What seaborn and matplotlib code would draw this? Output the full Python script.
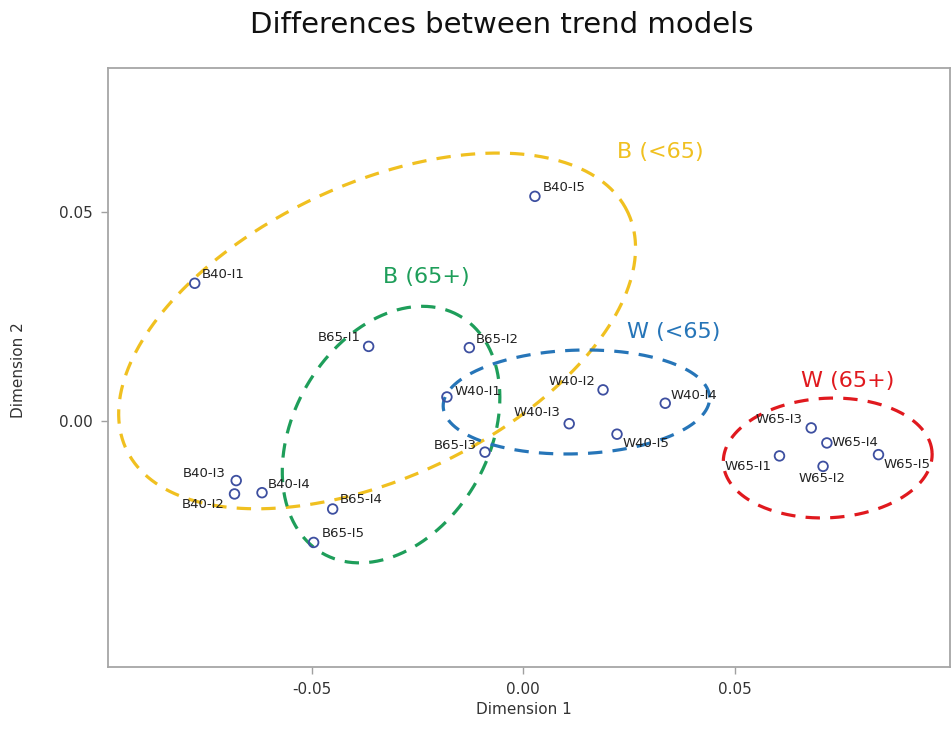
import numpy as np
import pandas as pd
import matplotlib
matplotlib.use("Agg")
import matplotlib.pyplot as plt
import seaborn as sns

# ---------------- data ----------------
labels = ["B40-I1", "B40-I2", "B40-I3", "B40-I4", "B40-I5",
          "B65-I1", "B65-I2", "B65-I3", "B65-I4", "B65-I5",
          "W40-I1", "W40-I2", "W40-I3", "W40-I4", "W40-I5",
          "W65-I1", "W65-I2", "W65-I3", "W65-I4", "W65-I5"]
dim1 = [-0.0776, -0.0682, -0.0678, -0.0617, 0.0028,
        -0.0365, -0.0127, -0.0090, -0.0450, -0.0495,
        -0.0180, 0.0189, 0.0109, 0.0336, 0.0222,
        0.0606, 0.0709, 0.0681, 0.0718, 0.0840]
dim2 = [0.0329, -0.0175, -0.0143, -0.0172, 0.0537,
        0.0178, 0.0175, -0.0075, -0.0211, -0.0291,
        0.0057, 0.0074, -0.0007, 0.0042, -0.0032,
        -0.0084, -0.0109, -0.0017, -0.0053, -0.0081]

groups = ["B (<65)", "B (65+)", "W (<65)", "W (65+)"]
ell_cx = [-0.0345, -0.0312, 0.0126, 0.0720]
ell_cy = [0.0215, -0.0033, 0.0045, -0.0089]
ell_a = [0.0657, 0.0327, 0.0315, 0.0247]     # semi-major
ell_b = [0.0350, 0.0231, 0.0124, 0.0143]     # semi-minor
ell_angle = [25.8, 60.8, 2.0, 3.0]           # degrees

x_ticks = [-0.05, 0.00, 0.05]
y_ticks = [0.00, 0.05]

# ---------------- layout / style ----------------
group_colors = ["#F0C020", "#1E9E5A", "#2675B8", "#E0191E"]
group_label_pos = [(0.0324, 0.0644), (-0.0229, 0.0344), (0.0355, 0.0213), (0.0768, 0.0096)]

# label offsets in pixels (dx, dy up) and horizontal alignment
label_offsets = {
    "B40-I1": (7, 9, "left"), "B40-I2": (-10, -11, "right"), "B40-I3": (-11, 7, "right"),
    "B40-I4": (6, 8, "left"), "B40-I5": (8, 9, "left"),
    "B65-I1": (-8, 9, "right"), "B65-I2": (6, 8, "left"), "B65-I3": (-8, 7, "right"),
    "B65-I4": (7, 9, "left"), "B65-I5": (8, 9, "left"),
    "W40-I1": (8, 5, "left"), "W40-I2": (-8, 8, "right"), "W40-I3": (-9, 11, "right"),
    "W40-I4": (5, 8, "left"), "W40-I5": (6, -9, "left"),
    "W65-I1": (-8, -11, "right"), "W65-I2": (-1, -12, "center"), "W65-I3": (-9, 8, "right"),
    "W65-I4": (5, 0, "left"), "W65-I5": (5, -10, "left"),
}

sns.set_theme(style="white")
plt.rcParams["font.family"] = ["DejaVu Sans"]
plt.rcParams["axes.unicode_minus"] = False

W, H = 953, 741
fig = plt.figure(figsize=(W / 100, H / 100), dpi=100)
ax = fig.add_axes([108 / W, 1 - 667 / H, (950 - 108) / W, (667 - 68) / H])

df = pd.DataFrame({"Dimension 1": dim1, "Dimension 2": dim2, "label": labels})

# ellipses
t = np.linspace(0, 2 * np.pi, 400)
for g, cx, cy, a, b, ang, col in zip(groups, ell_cx, ell_cy, ell_a, ell_b, ell_angle, group_colors):
    th = np.deg2rad(ang)
    ex = cx + a * np.cos(t) * np.cos(th) - b * np.sin(t) * np.sin(th)
    ey = cy + a * np.cos(t) * np.sin(th) + b * np.sin(t) * np.cos(th)
    ax.plot(ex, ey, color=col, lw=2.3, linestyle=(0, (4.5, 3.2)), zorder=2)

for g, (gx, gy), col in zip(groups, group_label_pos, group_colors):
    ax.text(gx, gy, g, color=col, fontsize=16, ha="center", va="center", zorder=4)

sns.scatterplot(data=df, x="Dimension 1", y="Dimension 2", ax=ax,
                marker="o", s=48, facecolor="none", edgecolor="#3D4FA0",
                linewidth=1.3, zorder=3)

for lab, x, y in zip(labels, dim1, dim2):
    dx, dy, ha = label_offsets[lab]
    ax.annotate(lab, (x, y), xytext=(dx, dy), textcoords="offset pixels",
                ha=ha, va="center", fontsize=9.5, color="#222222", zorder=5)

ax.set_xlim(-0.0981, 0.1009)
ax.set_ylim(-0.0589, 0.0844)
ax.set_xticks(x_ticks)
ax.set_yticks(y_ticks)
ax.set_xticklabels([f"{v:.2f}" for v in x_ticks])
ax.set_yticklabels([f"{v:.2f}" for v in y_ticks])
ax.tick_params(axis="both", which="both", direction="out", length=5, width=1,
               color="#A0A0A0", labelsize=11, labelcolor="#333333", pad=6,
               bottom=True, left=True)
for sp in ax.spines.values():
    sp.set_color("#A6A6A6")
    sp.set_linewidth(1.3)

ax.set_xlabel("Dimension 1", fontsize=11, color="#333333")
ax.set_ylabel("Dimension 2", fontsize=11, color="#333333")
ax.xaxis.set_label_coords(0.5 - (529 - 524) / 842, -(702 - 667) / 599)
ax.yaxis.set_label_coords(-(108 - 26) / 842, 0.5 - (370 - 367.5) / 599)

fig.text(502 / W, 1 - 25 / H, "Differences between trend models",
         ha="center", va="center", fontsize=21, color="#111111")

fig.savefig("out.png", dpi=100, facecolor="white")
